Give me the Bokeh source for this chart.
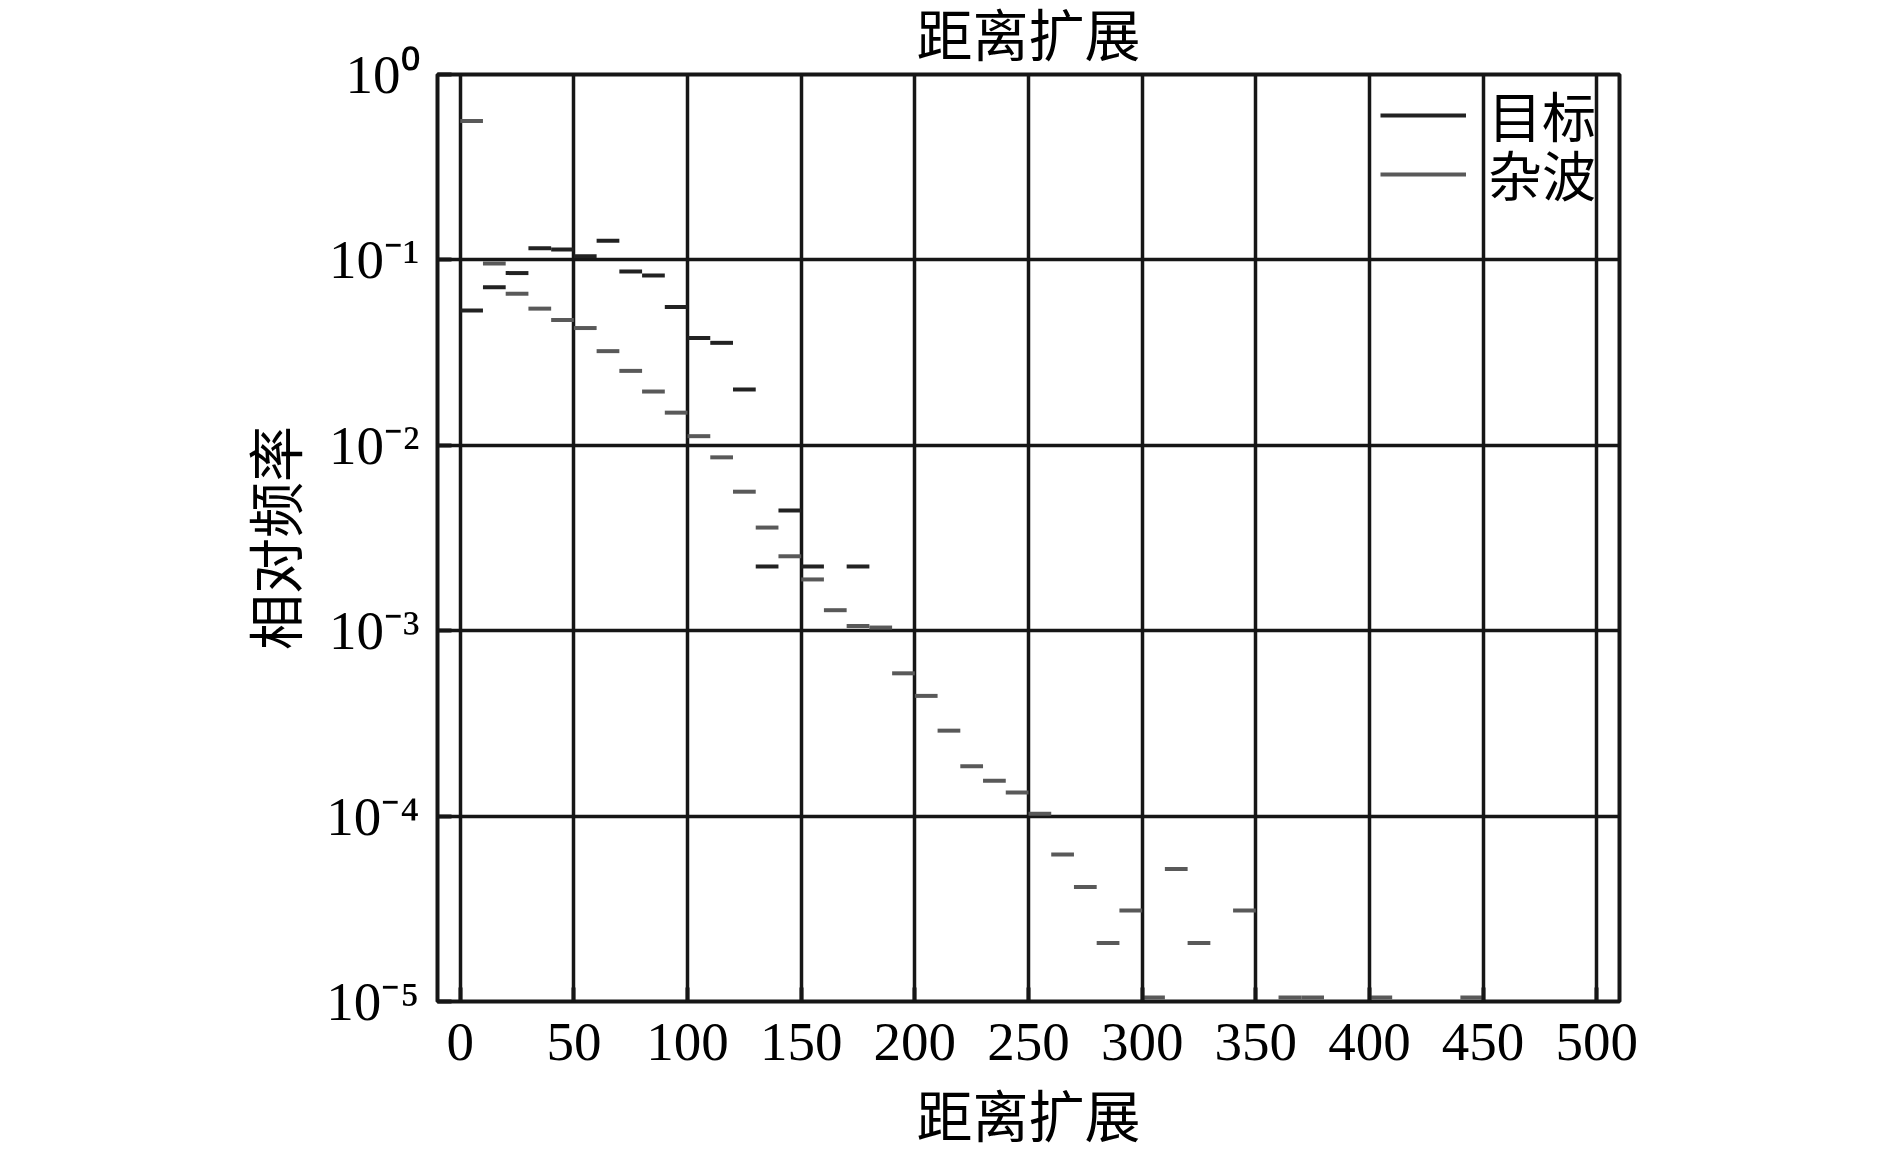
from bokeh.plotting import figure
from bokeh.models import (FixedTicker, CustomJSTickFormatter, ColumnDataSource, Range1d,
                          Legend, LegendItem)
from bokeh.embed import file_html
from bokeh.resources import INLINE

# ---------------- data ----------------
bin_width = 10
target_bin_left = [0, 10, 20, 30, 40, 50, 60, 70, 80, 90, 100, 110, 120, 130, 140, 150, 170]
target_freq = [0.0534, 0.0713, 0.0849, 0.1156, 0.1137, 0.1047, 0.127, 0.0866, 0.0824, 0.0557,
               0.0379, 0.0357, 0.0200, 0.00222, 0.00445, 0.00222, 0.00222]

clutter_bin_left = [0, 10, 20, 30, 40, 50, 60, 70, 80, 90, 100, 110, 120, 130, 140, 150, 160,
                    170, 180, 190, 200, 210, 220, 230, 240, 250, 260, 270, 280, 290, 300, 310,
                    320, 340, 360, 370, 400, 440]
clutter_freq = [0.562, 0.0957, 0.0657, 0.0546, 0.0474, 0.0429, 0.0322, 0.0252, 0.0195, 0.0150,
                0.0112, 0.00861, 0.00562, 0.00360, 0.00252, 0.00189, 0.00129, 0.00106, 0.00104,
                0.000589, 0.000445, 0.000289, 0.000186, 0.000155, 0.000134, 0.000103,
                6.2e-5, 4.14e-5, 2.07e-5, 3.10e-5, 1.05e-5, 5.18e-5, 2.07e-5, 3.10e-5,
                1.05e-5, 1.05e-5, 1.05e-5, 1.05e-5]

series_labels = ["目标", "杂波"]
title_text = "距离扩展"
x_label = "距离扩展"
y_label = "相对频率"

x_ticks = [0, 50, 100, 150, 200, 250, 300, 350, 400, 450, 500]
x_tick_labels = ["0", "50", "100", "150", "200", "250", "300", "350", "400", "450", "500"]
y_ticks = [1e-5, 1e-4, 1e-3, 1e-2, 1e-1, 1e0]
y_tick_labels = ["10⁻⁵", "10⁻⁴", "10⁻³", "10⁻²", "10⁻¹", "10⁰"]

# ---------------- styling ----------------
CJK = "Noto Sans CJK SC"
CJK_TIGHT = "Liberation Serif, Noto Sans CJK SC"
SERIF = "Liberation Serif"
TARGET_COLOR = "#222222"
CLUTTER_COLOR = "#595959"
GRID_COLOR = "#161616"

W, H = 1880, 1151
FL, FT, FW, FH = 437, 74, 1182, 929

p = figure(width=W, height=H, y_axis_type="log",
           x_range=Range1d(-10, 510), y_range=Range1d(1e-5, 1),
           output_backend="svg", toolbar_location=None,
           min_border_left=FL, min_border_right=W - FL - FW,
           min_border_top=FT, min_border_bottom=H - FT - FH)
p.background_fill_color = "white"
p.border_fill_color = "white"

p.title.text = title_text
p.title.align = "center"
p.title.vertical_align = "top"
p.title.text_font = CJK_TIGHT
p.title.text_font_size = "56px"
p.title.text_font_style = "normal"
p.title.text_color = "black"
p.title.standoff = 10

t_src = ColumnDataSource(dict(x0=target_bin_left,
                              x1=[b + bin_width for b in target_bin_left],
                              y=target_freq))
c_src = ColumnDataSource(dict(x0=clutter_bin_left,
                              x1=[b + bin_width for b in clutter_bin_left],
                              y=clutter_freq))

r_t = p.segment(x0="x0", x1="x1", y0="y", y1="y", source=t_src,
                line_color=TARGET_COLOR, line_width=4, line_cap="butt")
r_c = p.segment(x0="x0", x1="x1", y0="y", y1="y", source=c_src,
                line_color=CLUTTER_COLOR, line_width=4, line_cap="butt")

# axes
p.xaxis.ticker = FixedTicker(ticks=x_ticks)
p.xaxis.major_label_overrides = {t: l for t, l in zip(x_ticks, x_tick_labels)}
p.yaxis.ticker = FixedTicker(ticks=y_ticks)
p.yaxis.formatter = CustomJSTickFormatter(args=dict(tvals=y_ticks, tlabels=y_tick_labels), code="""
let best = 0, bd = Infinity;
for (let i = 0; i < tvals.length; i++) {
  const d = Math.abs(Math.log10(tvals[i]) - Math.log10(tick));
  if (d < bd) { bd = d; best = i; }
}
return tlabels[best];
""")

for ax in (p.xaxis, p.yaxis):
    ax.axis_line_color = None
    ax.major_tick_in = 14
    ax.major_tick_out = 0
    ax.major_tick_line_color = GRID_COLOR
    ax.major_tick_line_width = 4
    ax.minor_tick_line_color = None
    ax.major_label_text_font = SERIF
    ax.major_label_text_font_size = "55px"
    ax.major_label_text_color = "black"
    ax.axis_label_text_font_size = "56px"
    ax.axis_label_text_font_style = "normal"
    ax.axis_label_text_color = "black"

p.xaxis.axis_label = x_label
p.xaxis.axis_label_text_font = CJK_TIGHT
p.yaxis.axis_label = y_label
p.yaxis.axis_label_text_font = CJK
p.xaxis.major_label_standoff = 22
p.xaxis.axis_label_standoff = 24
p.yaxis.major_label_standoff = 18
p.yaxis.axis_label_standoff = 10

p.xgrid.grid_line_color = GRID_COLOR
p.xgrid.grid_line_width = 3.5
p.ygrid.grid_line_color = GRID_COLOR
p.ygrid.grid_line_width = 3.5
p.outline_line_color = GRID_COLOR
p.outline_line_width = 4
p.outline_line_alpha = 1

# one single-row legend per series, stacked to match the reference row pitch
renderers = [r_t, r_c]
legend_y = [847, 788]
for lab, rend, ly in zip(series_labels, renderers, legend_y):
    lg = Legend(items=[LegendItem(label=lab, renderers=[rend])], location=(943, ly))
    lg.background_fill_alpha = 0
    lg.border_line_color = None
    lg.padding = 0
    lg.margin = 0
    lg.spacing = 0
    lg.glyph_width = 86
    lg.glyph_height = 76
    lg.label_height = 76
    lg.label_standoff = 22
    lg.label_text_font = CJK_TIGHT
    lg.label_text_font_size = "54px"
    lg.label_text_color = "black"
    p.add_layout(lg)

open("out.html", "w").write(file_html(p, INLINE))
